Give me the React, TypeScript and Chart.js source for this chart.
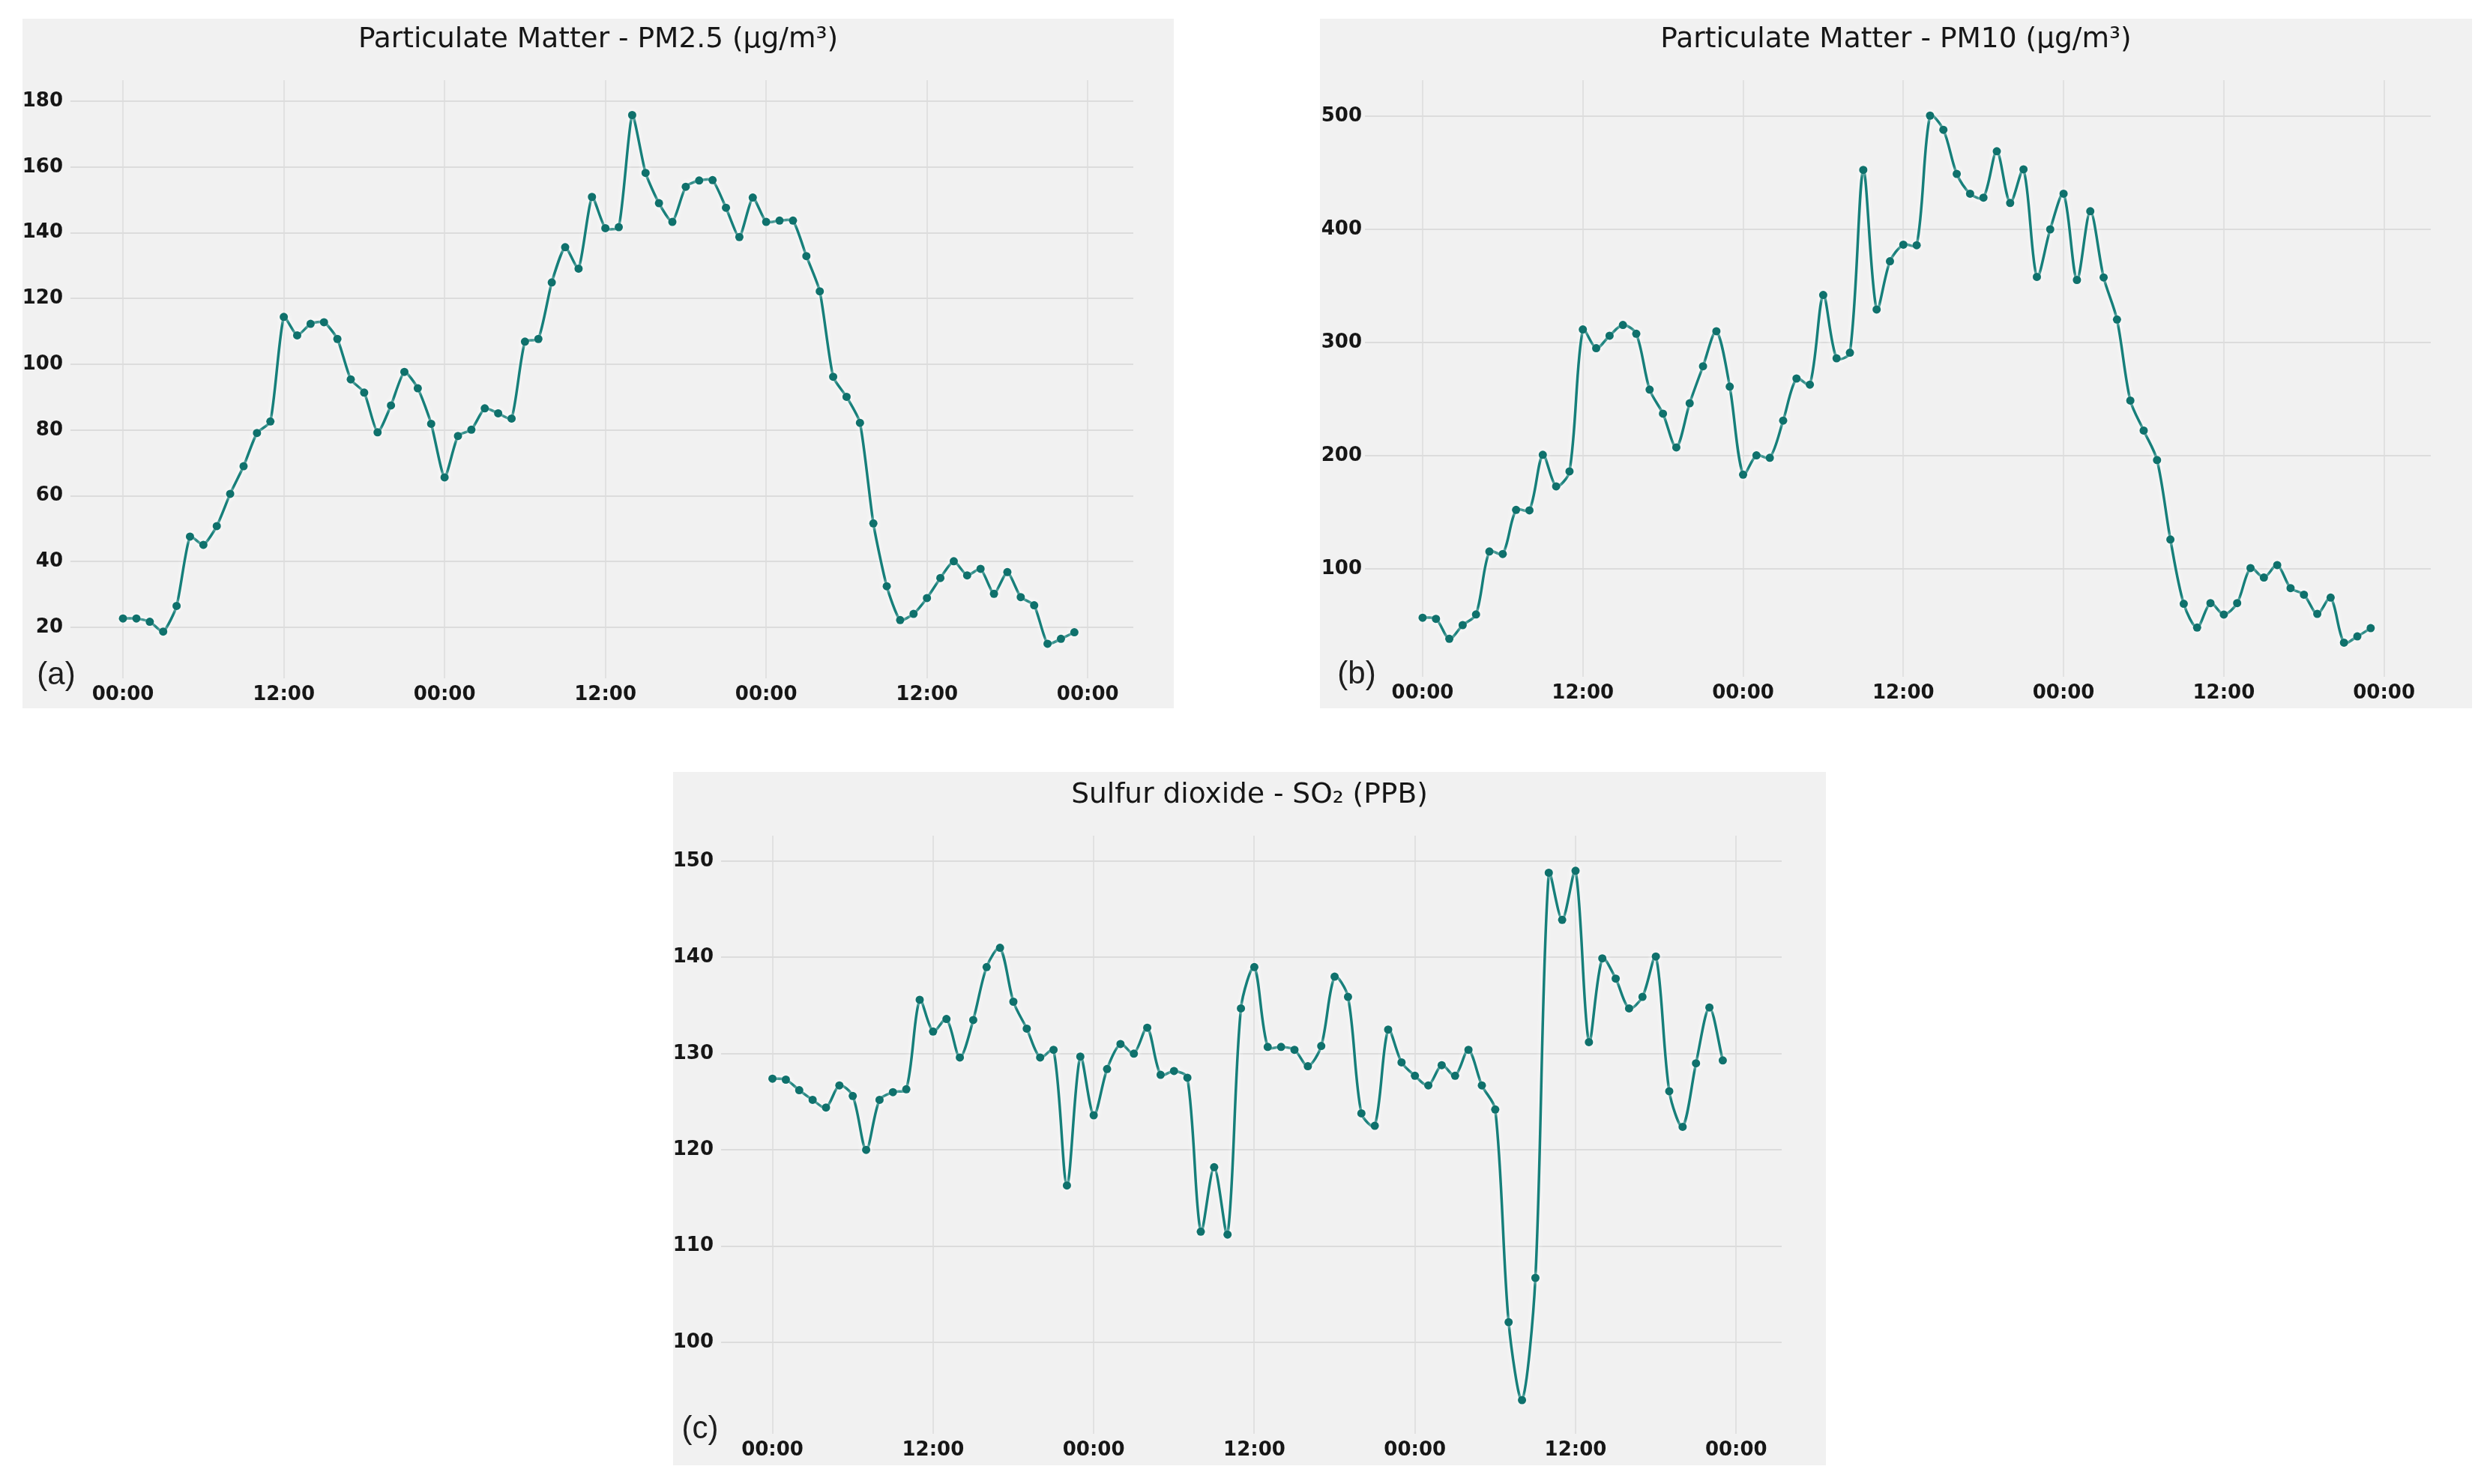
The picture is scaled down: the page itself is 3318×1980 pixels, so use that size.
import React, { useEffect, useRef } from 'react';
import { Chart, registerables } from 'chart.js';

Chart.register(...registerables);

// hour offsets from the first 00:00 (three days of hourly readings)
const hours = [
  0, 1, 2, 3, 4, 5, 6, 7, 8, 9, 10, 11, 12, 13, 14, 15, 16, 17, 18, 19, 20, 21, 22, 23,
  24, 25, 26, 27, 28, 29, 30, 31, 32, 33, 34, 35, 36, 37, 38, 39, 40, 41, 42, 43, 44, 45, 46, 47,
  48, 49, 50, 51, 52, 53, 54, 55, 56, 57, 58, 59, 60, 61, 62, 63, 64, 65, 66, 67, 68, 69, 70, 71,
];

const pm25 = [
  22.7, 22.7, 21.7, 18.7, 26.5, 47.6, 45.1, 50.8, 60.6, 69, 79.1, 82.6,
  114.4, 108.8, 112.3, 112.8, 107.7, 95.4, 91.4, 79.3, 87.5, 97.7, 92.7, 81.9,
  65.6, 78.2, 80.1, 86.6, 85.1, 83.5, 106.9, 107.7, 124.9, 135.6, 129.1, 150.9,
  141.4, 141.7, 175.8, 158.2, 149, 143.3, 154, 155.9, 156, 147.6, 138.7, 150.7,
  143.3, 143.7, 143.7, 132.9, 122.2, 96.2, 90.1, 82.2, 51.6, 32.5, 22.2, 24.1,
  28.9, 35, 40.1, 35.8, 37.8, 30.2, 36.8, 29.2, 26.7, 15.0, 16.5, 18.5,
];

const pm10 = [
  56.8, 55.8, 38.2, 50.3, 59.7, 115.3, 113.1, 152.1, 151.7, 200.8, 172.9, 186.1,
  311.5, 295, 306, 315.5, 307.7, 258.4, 237.1, 207.3, 246.3, 279, 310, 261,
  183.2, 200.3, 198.1, 231, 268.2, 262.8, 342, 286, 291, 452.5, 329.2, 371.8,
  386.5, 386, 500.5, 488, 449, 431.5, 428, 469, 423.3, 453, 358, 400,
  431.5, 355.3, 416, 357.5, 320.3, 248.7, 222.2, 196.1, 125.9, 69.1, 48.1, 69.7,
  59.6, 69.7, 100.7, 92.3, 103.3, 83, 77.2, 60.2, 74.6, 34.8, 40.3, 47.6,
];

const so2 = [
  127.4, 127.3, 126.2, 125.2, 124.4, 126.7, 125.6, 120, 125.2, 126, 126.3, 135.6,
  132.3, 133.6, 129.6, 133.5, 139, 141, 135.4, 132.6, 129.6, 130.4, 116.3, 129.7,
  123.6, 128.4, 131, 130, 132.7, 127.8, 128.2, 127.5, 111.5, 118.2, 111.2, 134.7,
  139, 130.7, 130.7, 130.4, 128.7, 130.8, 138, 135.9, 123.8, 122.5, 132.5, 129.1,
  127.7, 126.7, 128.8, 127.7, 130.4, 126.7, 124.2, 102.1, 94.0, 106.7, 148.8, 143.9,
  149, 131.2, 139.9, 137.8, 134.7, 135.9, 140.1, 126.1, 122.4, 129, 134.8, 129.3,
];

const timeTickLabels = ['00:00', '12:00'];

const titles = [
  'Particulate Matter - PM2.5 (μg/m³)',
  'Particulate Matter - PM10 (μg/m³)',
  'Sulfur dioxide - SO₂ (PPB)',
];
const panelLabels = ['(a)', '(b)', '(c)'];

const LINE = '#167f7a';
const POINT = '#0f716c';
const BG = '#f1f1f1';
const GRID_H = '#dcdcdc';
const GRID_V = '#e1e1e1';

type Panel = {
  data: number[];
  title: string;
  label: string;
  left: number;
  top: number;
  w: number;
  h: number;
  area: { l: number; r: number; t: number; b: number };
  titleCenter: number;
  xMin: number;
  xMax: number;
  yMin: number;
  yMax: number;
  yStep: number;
  yPad: number;
  tension: number;
  labelPos: [number, number];
};

const panels: Panel[] = [
  {
    data: pm25, title: titles[0], label: panelLabels[0],
    left: 30, top: 25, w: 1536, h: 920,
    area: { l: 64, r: 1482, t: 82, b: 880 }, titleCenter: 28,
    xMin: -3.92, xMax: 75.4, yMin: 4.5, yMax: 186.4, yStep: 20, yPad: 10, tension: 0.2,
    labelPos: [45, 876],
  },
  {
    data: pm10, title: titles[1], label: panelLabels[1],
    left: 1761, top: 25, w: 1537, h: 920,
    area: { l: 60, r: 1482, t: 82, b: 878 }, titleCenter: 28,
    xMin: -4.32, xMax: 75.5, yMin: 4.6, yMax: 531.8, yStep: 100, yPad: 4, tension: 0.3,
    labelPos: [49, 875],
  },
  {
    data: so2, title: titles[2], label: panelLabels[2],
    left: 898, top: 1030, w: 1538, h: 925,
    area: { l: 64, r: 1479, t: 85, b: 883 }, titleCenter: 31,
    xMin: -3.84, xMax: 75.4, yMin: 90.5, yMax: 152.65, yStep: 10, yPad: 10, tension: 0.3,
    labelPos: [36, 877],
  },
];

function PanelChart({ p }: { p: Panel }) {
  const ref = useRef<HTMLCanvasElement | null>(null);
  useEffect(() => {
    const canvas = ref.current;
    if (!canvas) return;
    const titleSize = 37.5;
    const titleBox = titleSize * 1.2;
    const padTop = p.titleCenter - titleBox / 2;
    const padBottom = p.area.t - padTop - titleBox;

    const labelPlugin = {
      id: 'panelLabel',
      beforeDatasetsDraw(chart: any) {
        const ctx = chart.ctx;
        ctx.save();
        ctx.shadowColor = 'rgba(255,255,255,0.95)';
        ctx.shadowBlur = 7;
      },
      afterDatasetsDraw(chart: any) {
        chart.ctx.restore();
      },
      afterDraw(chart: any) {
        const ctx = chart.ctx;
        ctx.save();
        ctx.font = '42px "Liberation Sans", Arial, sans-serif';
        ctx.fillStyle = '#1e1e1e';
        ctx.textAlign = 'center';
        ctx.textBaseline = 'middle';
        ctx.fillText(p.label, p.labelPos[0], p.labelPos[1]);
        ctx.restore();
      },
    };

    const tickFont = { family: '"DejaVu Sans", Verdana, sans-serif', size: 26, weight: 'bold' };

    const chart = new Chart(canvas, {
      type: 'line',
      data: {
        labels: hours,
        datasets: [
          {
            data: p.data,
            borderColor: LINE,
            backgroundColor: POINT,
            borderWidth: 3.5,
            pointRadius: 5.5,
            pointBackgroundColor: POINT,
            pointBorderWidth: 0,
            tension: p.tension,
            fill: false,
            yAxisID: 'y',
          },
        ],
      },
      options: {
        responsive: false,
        animation: false,
        devicePixelRatio: 1,
        layout: { padding: 0 },
        plugins: {
          legend: { display: false },
          tooltip: { enabled: false },
          title: {
            display: true,
            text: p.title,
            color: '#161616',
            font: { family: '"DejaVu Sans", Verdana, sans-serif', size: titleSize, weight: 'normal', lineHeight: 1.2 },
            padding: { top: padTop, bottom: padBottom },
          },
        },
        scales: {
          x: {
            type: 'linear',
            min: p.xMin,
            max: p.xMax,
            afterFit: (s: any) => { s.height = p.h - p.area.b; },
            ticks: {
              stepSize: 12,
              includeBounds: false,
              autoSkip: false,
              maxRotation: 0,
              padding: 7,
              color: '#161616',
              font: tickFont,
              callback: (v: any) => timeTickLabels[Math.round(Number(v) / 12) % 2],
            },
            grid: { color: GRID_V, lineWidth: 2, drawTicks: false },
            border: { display: false },
          },
          y: {
            type: 'linear',
            position: 'left',
            min: p.yMin,
            max: p.yMax,
            afterFit: (s: any) => { s.width = p.area.l; },
            ticks: {
              stepSize: p.yStep,
              includeBounds: false,
              padding: p.yPad,
              color: '#161616',
              font: tickFont,
            },
            grid: { color: GRID_H, lineWidth: 2, drawTicks: false },
            border: { display: false },
          },
          spacer: {
            type: 'linear',
            position: 'right',
            min: 0,
            max: 1,
            afterFit: (s: any) => { s.width = p.w - p.area.r; },
            ticks: { display: false },
            grid: { display: false, drawTicks: false },
            border: { display: false },
          },
        },
      },
      plugins: [labelPlugin],
    } as any);
    return () => chart.destroy();
  }, [p]);

  return (
    <div
      style={{
        position: 'absolute',
        left: p.left,
        top: p.top,
        width: p.w,
        height: p.h,
        background: BG,
      }}
    >
      <canvas ref={ref} width={p.w} height={p.h} style={{ width: p.w, height: p.h, display: 'block' }} />
    </div>
  );
}

export default function App() {
  return (
    <div
      style={{
        position: 'absolute',
        left: 0,
        top: 0,
        width: 3318,
        height: 1980,
        background: '#ffffff',
        overflow: 'hidden',
      }}
    >
      {panels.map((p, i) => (
        <PanelChart key={i} p={p} />
      ))}
    </div>
  );
}
